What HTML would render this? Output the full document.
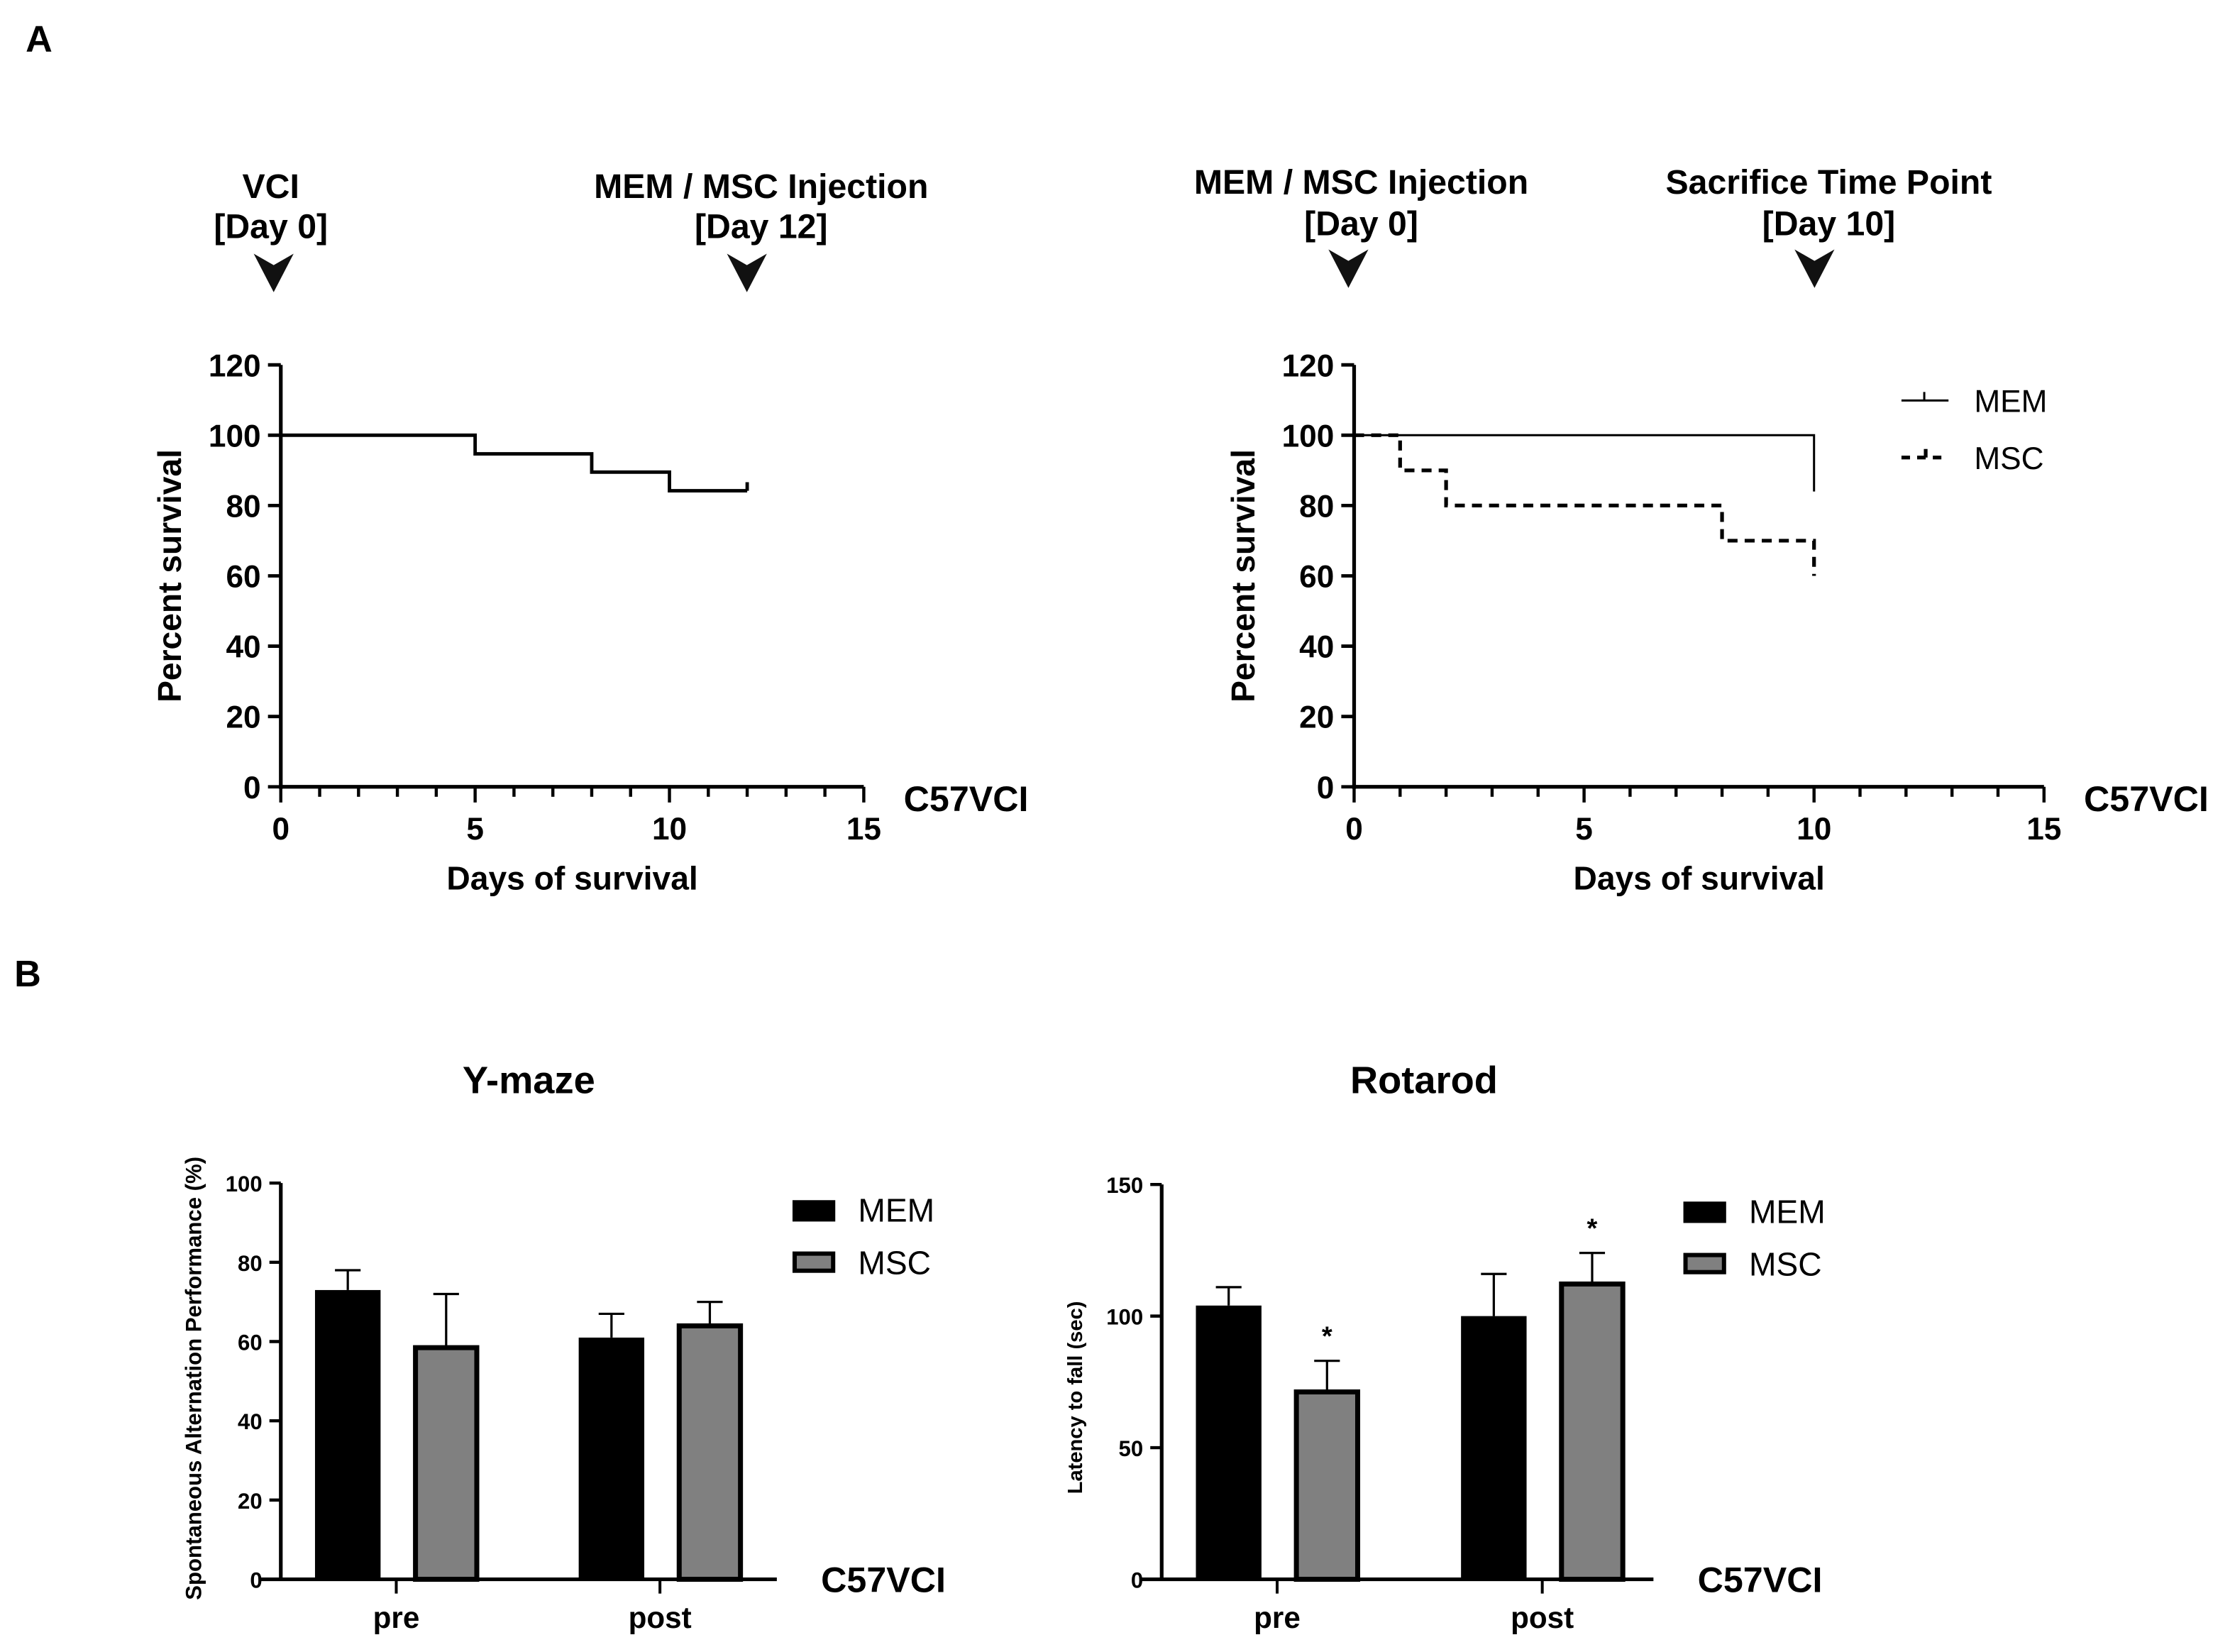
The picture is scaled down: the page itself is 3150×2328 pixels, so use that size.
<!DOCTYPE html>
<html><head><meta charset="utf-8"><style>
html,body{margin:0;padding:0;background:#fff}
svg{display:block}
text{font-family:"Liberation Sans",Arial,sans-serif}
</style></head><body>
<svg id="fig" width="3150" height="2328" viewBox="0 0 1568 1159" preserveAspectRatio="none" xmlns="http://www.w3.org/2000/svg">
<rect width="1568" height="1159" fill="#fff"/>
<g id="root"></g>
</svg>
<script>
// ---------- data ----------
const survLeftT = [0, 5, 8, 10, 12];
const survLeftV = [100, 94.7, 89.5, 84.2, 84.2];
const memT = [0, 10];
const memV = [100, 84];
const mscT = [0, 1, 2, 8, 10];
const mscV = [100, 90, 80, 70, 60];
const survYTicks = [0, 20, 40, 60, 80, 100, 120];
const survXTicks = [0, 5, 10, 15];
const barCats = ['pre', 'post'];
const ymazeMEM = [73, 61];
const ymazeMEMErr = [5, 6];
const ymazeMSC = [59, 64.5];
const ymazeMSCErr = [13, 5.5];
const ymazeTicks = [0, 20, 40, 60, 80, 100];
const rotaMEM = [104, 100];
const rotaMEMErr = [7, 16];
const rotaMSC = [72, 113];
const rotaMSCErr = [11, 11];
const rotaTicks = [0, 50, 100, 150];
const rotaSig = [true, true];

const NS = 'http://www.w3.org/2000/svg';
const root = document.getElementById('root');
function el(tag, attrs, parent, txt) {
  const e = document.createElementNS(NS, tag);
  for (const k in attrs) e.setAttribute(k, attrs[k]);
  if (txt !== undefined) e.textContent = txt;
  (parent || root).appendChild(e);
  return e;
}
function txt(x, y, s, size, name, extra) {
  const a = {x: x, y: y, 'font-size': size, 'font-weight': 'bold', 'text-anchor': 'middle', fill: '#000'};
  if (extra) for (const k in extra) a[k] = extra[k];
  const t = el('text', a, root, s);
  
  
  return t;
}
function arrow(cx, top, name) {
  const p = el('path', {d: `M${cx-14} ${top} L${cx} ${top+8} L${cx+14} ${top} L${cx} ${top+27} Z`, fill: '#111'});
  
  
}

// panel letters
txt(18, 36, 'A', 26, 'panel-a-label', {'text-anchor': 'start'});
txt(10, 692, 'B', 26, 'panel-b-label', {'text-anchor': 'start'});

// ---------- survival axes ----------
function survAxes(x0, x1, y0, y1, prefix) {
  const X = d => x0 + (x1 - x0) * d / 15;
  const Y = v => y0 - (y0 - y1) * v / 120;
  const g = el('g', {});
  
  
  el('line', {x1: x0, y1: Y(120), x2: x0, y2: y0 + 1.5, stroke: '#000', 'stroke-width': 2.6}, g);
  el('line', {x1: x0 - 1.3, y1: y0, x2: x1, y2: y0, stroke: '#000', 'stroke-width': 2.6}, g);
  survYTicks.forEach(v => {
    el('line', {x1: x0 - 9, y1: Y(v), x2: x0, y2: Y(v), stroke: '#000', 'stroke-width': 2.4}, g);
    txt(x0 - 14, Y(v) + 8, String(v), 22, prefix + '-y-tick-label', {'text-anchor': 'end'});
  });
  for (let d = 0; d <= 15; d++) {
    el('line', {x1: X(d), y1: y0, x2: X(d), y2: y0 + (d % 5 === 0 ? 11 : 7), stroke: '#000', 'stroke-width': 2.2}, g);
  }
  survXTicks.forEach(d => txt(X(d), y0 + 37, String(d), 22, prefix + '-x-tick-label'));
  txt((x0 + x1) / 2, y0 + 72, 'Days of survival', 23, prefix + '-x-axis-title');
  txt(0, 0, 'Percent survival', 23, prefix + '-y-axis-title', {transform: `translate(${x0 - 70},${(y0 + y1) / 2}) rotate(-90)`});
  txt(x1 + 28, y0 + 17, 'C57VCI', 25, prefix + '-group-label', {'text-anchor': 'start'});
  return {X, Y};
}
function stepPath(T, V, X, Y) {
  let d = `M${X(T[0])} ${Y(V[0])}`;
  for (let i = 1; i < T.length; i++) {
    d += ` H${X(T[i])} V${Y(V[i])}`;
  }
  return d;
}

// Left survival
const L = survAxes(197, 606, 552, 256, 'survival-left');
const pl = el('path', {d: stepPath(survLeftT, survLeftV, L.X, L.Y) + ` M${L.X(12)} ${L.Y(survLeftV[4])} V${L.Y(survLeftV[4]) - 6}`, fill: 'none', stroke: '#000', 'stroke-width': 2.4});


txt(190, 139, 'VCI', 24, 'vci-annotation');
txt(190, 167, '[Day 0]', 24, 'vci-day-annotation');
arrow(192, 178, 'vci-arrow');
txt(534, 139, 'MEM / MSC Injection', 24, 'injection-annotation');
txt(534, 167, '[Day 12]', 24, 'injection-day-annotation');
arrow(524, 178, 'injection-arrow');

// Right survival
const R = survAxes(950, 1434, 552, 256, 'survival-right');
const pm = el('path', {d: stepPath(memT, memV, R.X, R.Y), fill: 'none', stroke: '#000', 'stroke-width': 1.5});


const ps = el('path', {d: stepPath(mscT, mscV, R.X, R.Y), fill: 'none', stroke: '#000', 'stroke-width': 2.6, 'stroke-dasharray': '7 5'});


// legend
const lg = el('g', {});


el('line', {x1: 1334, y1: 281, x2: 1367, y2: 281, stroke: '#000', 'stroke-width': 1.5}, lg);
el('line', {x1: 1350, y1: 281, x2: 1350, y2: 275, stroke: '#000', 'stroke-width': 1.5}, lg);
el('text', {x: 1385, y: 289, 'font-size': 22, fill: '#000'}, lg, 'MEM');
el('line', {x1: 1334, y1: 321, x2: 1367, y2: 321, stroke: '#000', 'stroke-width': 2.6, 'stroke-dasharray': '6 5'}, lg);
el('line', {x1: 1351, y1: 321, x2: 1351, y2: 315, stroke: '#000', 'stroke-width': 2.6}, lg);
el('text', {x: 1385, y: 329, 'font-size': 22, fill: '#000'}, lg, 'MSC');
txt(955, 136, 'MEM / MSC Injection', 24, 'injection-annotation-right');
txt(955, 165, '[Day 0]', 24, 'injection-day-annotation-right');
arrow(946, 175, 'injection-arrow-right');
txt(1283, 136, 'Sacrifice Time Point', 24, 'sacrifice-annotation');
txt(1283, 165, '[Day 10]', 24, 'sacrifice-day-annotation');
arrow(1273, 175, 'sacrifice-arrow');

// ---------- bar charts ----------
function barChart(cfg) {
  const {x0, x1, y0, y1, max, ticks, mem, memErr, msc, mscErr, groupC, prefix} = cfg;
  const Y = v => y0 - (y0 - y1) * v / max;
  const g = el('g', {});
  
  
  el('line', {x1: x0, y1: y1, x2: x0, y2: y0, stroke: '#000', 'stroke-width': 2.6}, g);
  el('line', {x1: x0 - 15, y1: y0, x2: x1, y2: y0, stroke: '#000', 'stroke-width': 2.6}, g);
  ticks.forEach(v => {
    el('line', {x1: x0 - 8, y1: Y(v), x2: x0, y2: Y(v), stroke: '#000', 'stroke-width': 2.2}, g);
    txt(x0 - 13, Y(v) + 6, String(v), 15.5, prefix + '-y-tick-label', {'text-anchor': 'end'});
  });
  const bw = 46;
  barCats.forEach((c, i) => {
    const cx = groupC[i];
    el('line', {x1: cx, y1: y0, x2: cx, y2: y0 + 10, stroke: '#000', 'stroke-width': 2}, g);
    txt(cx, y0 + 34, c, 21, prefix + '-x-tick-label');
    const mx = cx - 57, sx = cx + 12;
    [[mx, mem[i], memErr[i], 'mem'], [sx, msc[i], mscErr[i], 'msc']].forEach(([bx, v, e, s]) => {
      const eb = el('path', {d: `M${bx + bw / 2} ${Y(v)} V${Y(v + e)} M${bx + bw / 2 - 9} ${Y(v + e)} H${bx + bw / 2 + 9}`, stroke: '#000', 'stroke-width': 1.6, fill: 'none'});
      
      
    });
    const b1 = el('rect', {x: mx, y: Y(mem[i]), width: bw, height: y0 - Y(mem[i]), fill: '#000'});
    
    
    const b2 = el('rect', {x: sx + 1.5, y: Y(msc[i]) + 1.5, width: bw - 3, height: y0 - Y(msc[i]) - 1.5, fill: '#808080', stroke: '#000', 'stroke-width': 3.5});
    
    
    if (cfg.sig && cfg.sig[i]) {
      txt(sx + bw / 2, Y(msc[i] + mscErr[i]) - 11, '*', 19, `${prefix}-significance-${c}`);
    }
  });
  txt(cfg.titleX, cfg.titleY, cfg.title, 27, prefix + '-title');
  txt(0, 0, cfg.ylabel, cfg.ylabelSize, prefix + '-y-axis-title', {transform: `translate(${cfg.ylabelX},${(y0 + y1) / 2 + cfg.ylabelOff}) rotate(-90)`});
  txt(x1 + 31, y0 + 9, 'C57VCI', 25, prefix + '-group-label', {'text-anchor': 'start'});
  const lg = el('g', {});
  
  
  el('rect', {x: cfg.legX, y: cfg.legY - 7, width: 30, height: 15, fill: '#000'}, lg);
  el('text', {x: cfg.legX + 46, y: cfg.legY + 8, 'font-size': 23, fill: '#000'}, lg, 'MEM');
  el('rect', {x: cfg.legX + 1.5, y: cfg.legY + 30.5, width: 27, height: 12, fill: '#808080', stroke: '#000', 'stroke-width': 3}, lg);
  el('text', {x: cfg.legX + 46, y: cfg.legY + 45, 'font-size': 23, fill: '#000'}, lg, 'MSC');
}
barChart({x0: 197, x1: 545, y0: 1108, y1: 830, max: 100, ticks: ymazeTicks, mem: ymazeMEM, memErr: ymazeMEMErr,
  msc: ymazeMSC, mscErr: ymazeMSCErr, groupC: [278, 463], prefix: 'ymaze', title: 'Y-maze', titleX: 371, titleY: 767,
  ylabel: 'Spontaneous Alternation Performance (%)', ylabelSize: 15.5, ylabelX: 141, ylabelOff: -2, legX: 556, legY: 849});
barChart({x0: 815, x1: 1160, y0: 1108, y1: 831, max: 150, ticks: rotaTicks, mem: rotaMEM, memErr: rotaMEMErr,
  msc: rotaMSC, mscErr: rotaMSCErr, groupC: [896, 1082], prefix: 'rotarod', title: 'Rotarod', titleX: 999, titleY: 767, sig: rotaSig,
  ylabel: 'Latency to fall (sec)', ylabelSize: 14.5, ylabelX: 759, ylabelOff: 11, legX: 1181, legY: 850});
</script>
</body></html>
